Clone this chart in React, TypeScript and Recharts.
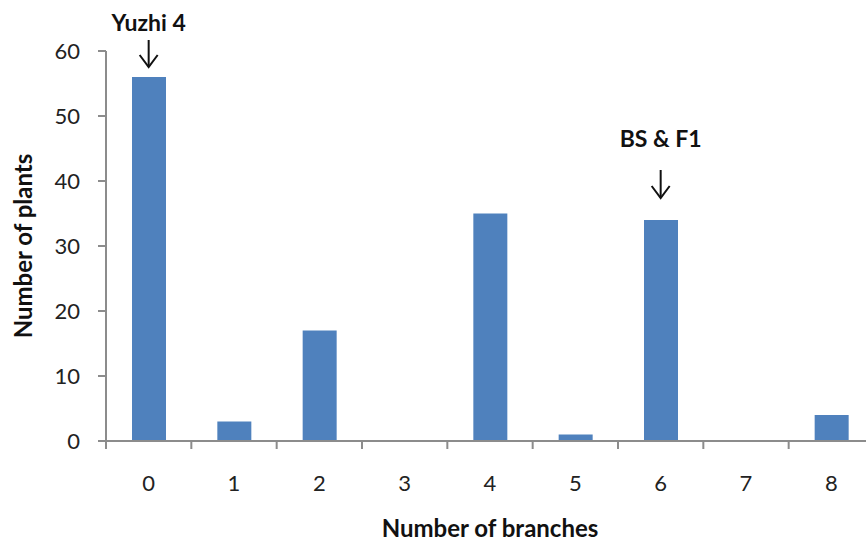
import React from "react";
import { BarChart, Bar, XAxis, YAxis, ReferenceDot, Label } from "recharts";

const branches = ["0", "1", "2", "3", "4", "5", "6", "7", "8"];
const plants = [56, 3, 17, 0, 35, 1, 34, 0, 4];
const yTicks = [0, 10, 20, 30, 40, 50, 60];
const boundaryTicks = [-0.5, 0.5, 1.5, 2.5, 3.5, 4.5, 5.5, 6.5, 7.5, 8.5];
const annotations = [
  { x: "0", y: 56, text: "Yuzhi 4", textGap: 55, arrowTop: 37, arrowBottom: 10 },
  { x: "6", y: 34, text: "BS & F1", textGap: 82, arrowTop: 50, arrowBottom: 22 },
];

const data = branches.map((b, i) => ({ branch: b, plants: plants[i] }));

const FONT = "Lato, 'Open Sans', sans-serif";
const GRAY = "#8c8c8c";
const BLUE = "#4f81bd";

const makeArrow = (a: typeof annotations[number]) => (props: any) => {
  const { cx, cy } = props;
  if (cx == null || cy == null) return null;
  const top = cy - a.arrowTop;
  const bottom = cy - a.arrowBottom;
  return (
    <g>
      <text
        x={cx}
        y={cy - a.textGap}
        textAnchor="middle"
        dominantBaseline="central"
        fontFamily={FONT}
        fontWeight="bold"
        fontSize={23}
        fill="#111"
      >
        {a.text}
      </text>
      <line x1={cx} y1={top} x2={cx} y2={bottom} stroke="#111" strokeWidth={2} />
      <polyline
        points={`${cx - 9},${bottom - 12} ${cx},${bottom} ${cx + 9},${bottom - 12}`}
        fill="none"
        stroke="#111"
        strokeWidth={2}
      />
    </g>
  );
};

const EmptyTick = () => <g />;

export default function App() {
  return (
    <div
      style={{
        position: "absolute",
        left: 0,
        top: 0,
        width: 866,
        height: 543,
        overflow: "hidden",
        background: "#fff",
      }}
    >
      <BarChart
        width={880}
        height={543}
        data={data}
        margin={{ top: 51, right: 6, bottom: 1, left: 0 }}
        barSize={34}
      >
        <XAxis
          xAxisId="a"
          type="number"
          dataKey="gx"
          domain={[-0.5, 8.5]}
          ticks={boundaryTicks}
          allowDataOverflow
          height={1}
          tick={EmptyTick}
          tickSize={8}
          tickLine={{ stroke: GRAY, strokeWidth: 2 }}
          axisLine={{ stroke: GRAY, strokeWidth: 2 }}
        />
        <XAxis
          xAxisId="b"
          dataKey="branch"
          type="category"
          height={100}
          axisLine={false}
          tickLine={false}
          tickSize={0}
          tickMargin={33}
          tick={{ fontSize: 22, fill: "#222", fontFamily: FONT }}
          interval={0}
        >
          <Label
            value="Number of branches"
            position="insideBottom"
            offset={5}
            style={{ fontSize: 24, fontWeight: "bold", fill: "#111", fontFamily: FONT }}
          />
        </XAxis>
        <YAxis
          domain={[0, 60]}
          ticks={yTicks}
          width={106}
          tickSize={8}
          tickMargin={18}
          axisLine={{ stroke: GRAY, strokeWidth: 2 }}
          tickLine={{ stroke: GRAY, strokeWidth: 2 }}
          tick={{ fontSize: 22, fill: "#222", fontFamily: FONT }}
        >
          <Label
            value="Number of plants"
            angle={-90}
            position="insideLeft"
            offset={23}
            style={{ fontSize: 24, fontWeight: "bold", fill: "#111", fontFamily: FONT, textAnchor: "middle" }}
          />
        </YAxis>
        <Bar xAxisId="b" dataKey="plants" fill={BLUE} isAnimationActive={false} />
        {annotations.map((a) => (
          <ReferenceDot
            key={a.text}
            xAxisId="b"
            x={a.x}
            y={a.y}
            r={0}
            ifOverflow="visible"
            shape={makeArrow(a)}
          />
        ))}
      </BarChart>
    </div>
  );
}
